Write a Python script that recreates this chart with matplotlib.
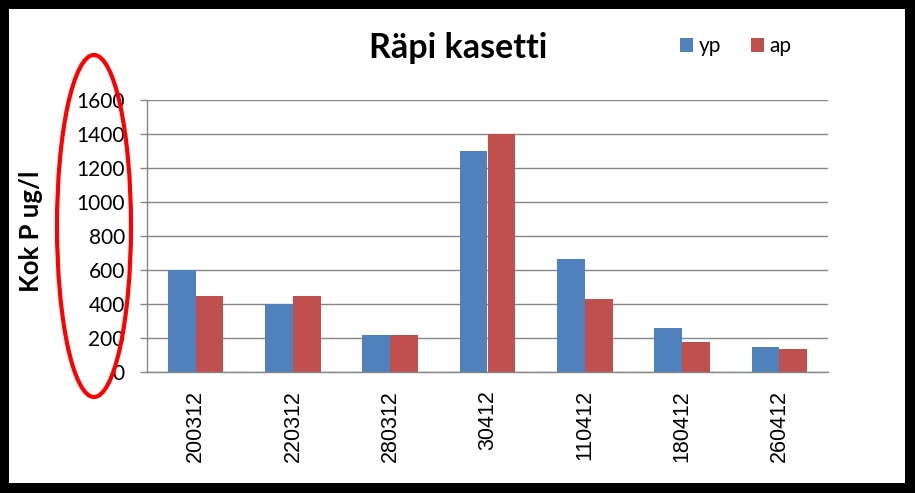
import matplotlib
matplotlib.use("Agg")
import matplotlib.pyplot as plt
from matplotlib.patches import Rectangle, Ellipse
import numpy as np

categories = ["200312", "220312", "280312", "30412", "110412", "180412", "260412"]
yp = [600, 400, 220, 1300, 665, 260, 150]
ap = [450, 450, 220, 1400, 430, 178, 137]
yticks = [0, 200, 400, 600, 800, 1000, 1200, 1400, 1600]

W, H = 915, 493
fig = plt.figure(figsize=(W / 100, H / 100), dpi=100)
fig.patch.set_facecolor("black")
fig.patches.append(Rectangle((9 / W, 10 / H), 1 - 19 / W, 1 - 19 / H,
                             transform=fig.transFigure, facecolor="white",
                             edgecolor="none", zorder=-5))

ax = fig.add_axes([147 / W, 1 - 372 / H, (828 - 147) / W, 272 / H])
ax.set_facecolor("white")
x = np.arange(len(categories))
bw = 0.2857
ax.bar(x - bw / 2, yp, bw, color="#4F81BD", label="yp", zorder=3)
ax.bar(x + bw / 2, ap, bw, color="#C0504D", label="ap", zorder=3)

ax.set_xlim(-0.5, len(categories) - 0.5)
ax.set_ylim(0, 1600)
ax.set_yticks(yticks)
ax.set_yticklabels([str(v) for v in yticks], fontfamily="Lato", fontsize=15)
ax.set_xticks(x)
ax.set_xticklabels(categories, rotation=90, fontfamily="Liberation Sans", fontsize=15.5)
ax.tick_params(axis="x", length=0, pad=13)
ax.tick_params(axis="y", length=5, width=1, color="#868686", pad=11)
ax.yaxis.grid(True, color="#868686", linewidth=1, zorder=0)
ax.set_axisbelow(True)
for s in ["top", "right"]:
    ax.spines[s].set_visible(False)
for s in ["left", "bottom"]:
    ax.spines[s].set_color("#868686")
    ax.spines[s].set_linewidth(1)
    ax.spines[s].set_zorder(4)

ax.set_ylabel("Kok P ug/l", fontfamily="Lato", fontweight="bold", fontsize=18.5)
ax.yaxis.set_label_coords(43 / W, 1 - 231 / H, transform=fig.transFigure)

fig.text(458 / W, 1 - 48 / H, "Räpi kasetti", fontfamily="Lato", fontweight="bold",
         fontsize=24.5, ha="center", va="center")

fig.legend(loc="center left", bbox_to_anchor=(680 / W, 1 - 46 / H),
           bbox_transform=fig.transFigure, ncol=2, frameon=False,
           prop={"family": "Lato", "size": 15}, handlelength=0.64, handleheight=0.64,
           handletextpad=0.25, columnspacing=1.45, borderpad=0, borderaxespad=0)

fig.patches.append(Ellipse((94 / W, 1 - 226 / H), 74 / W, 342 / H,
                           transform=fig.transFigure, fill=False, edgecolor="#FF0000",
                           linewidth=3, zorder=10))

fig.savefig("out.png", dpi=100, facecolor=fig.get_facecolor())
